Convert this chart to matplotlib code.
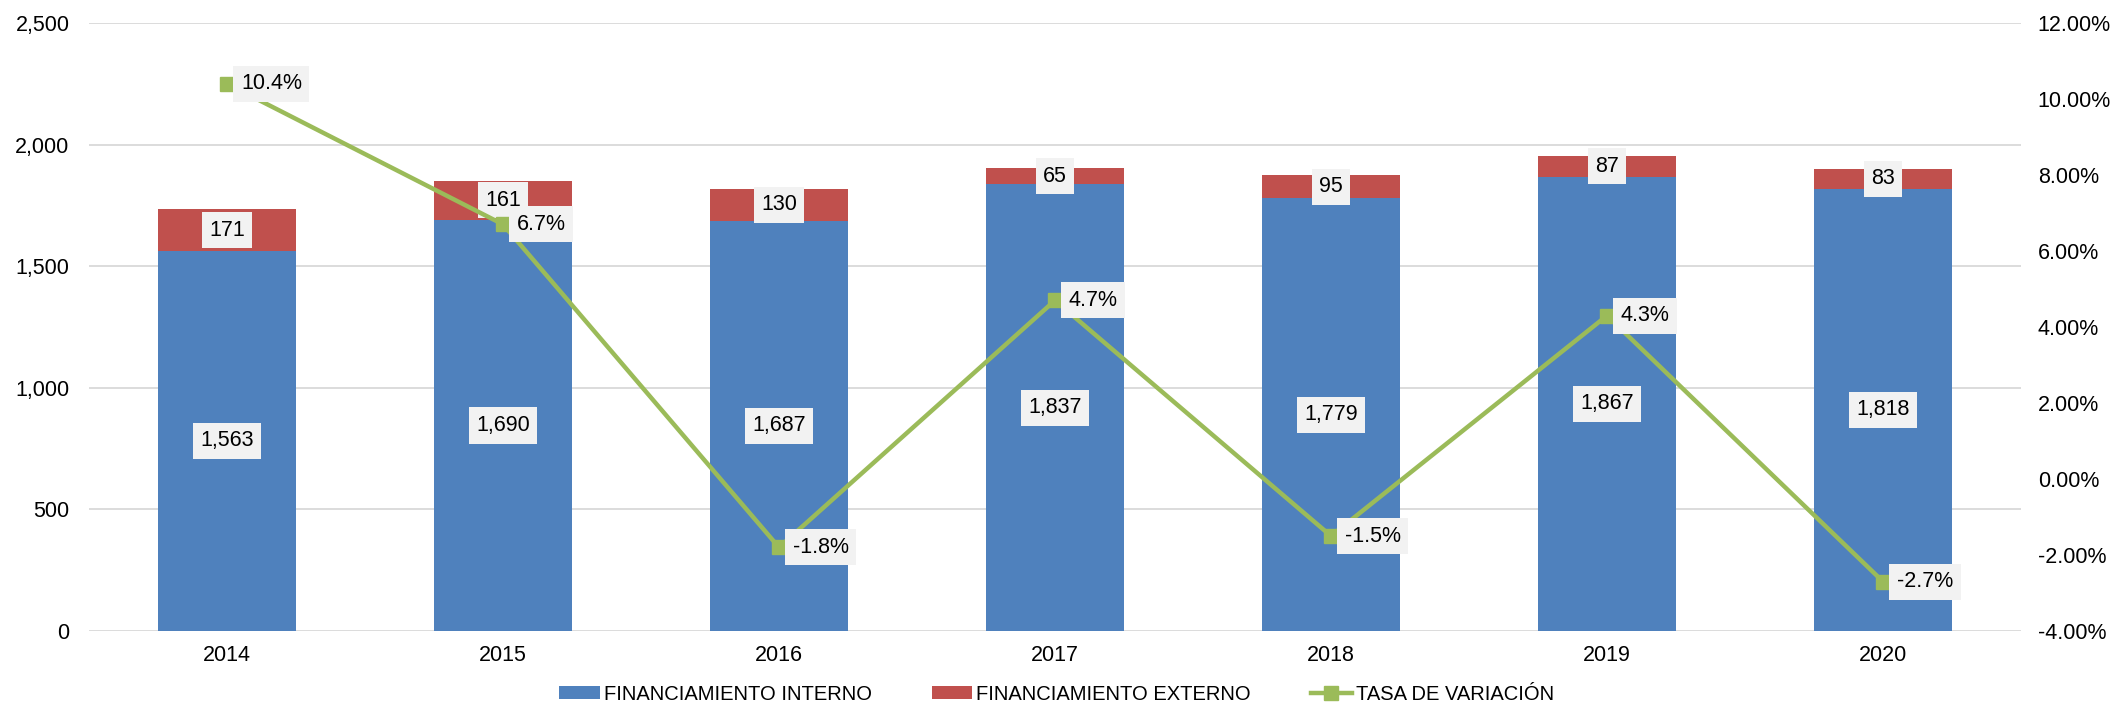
import matplotlib
matplotlib.use("Agg")
import matplotlib.pyplot as plt
from matplotlib.patches import Patch
from matplotlib.lines import Line2D
from matplotlib.ticker import FuncFormatter, MultipleLocator

years = ["2014", "2015", "2016", "2017", "2018", "2019", "2020"]
interno = [1563, 1690, 1687, 1837, 1779, 1867, 1818]
externo = [171, 161, 130, 65, 95, 87, 83]
tasa = [10.4, 6.7, -1.8, 4.7, -1.5, 4.3, -2.7]

BLUE = "#4F81BD"
RED = "#C0504D"
GREEN = "#9BBB59"
plt.rcParams["font.family"] = ["Liberation Sans", "DejaVu Sans"]

fig = plt.figure(figsize=(21.13, 7.08), dpi=100)
ax = fig.add_axes([89 / 2113, 1 - 631 / 708, (2021 - 89) / 2113, (631 - 23) / 708])
x = list(range(len(years)))
w = 0.5
ax.bar(x, interno, w, color=BLUE, zorder=2)
ax.bar(x, externo, w, bottom=interno, color=RED, zorder=2)

FS = 15.5
box = dict(boxstyle="square,pad=0.35", facecolor="#F2F2F2", edgecolor="none")
for i in x:
    ax.text(i, interno[i] / 2, f"{interno[i]:,}", ha="center", va="center",
            fontsize=FS, bbox=box, zorder=5)
    ax.text(i, interno[i] + externo[i] / 2, f"{externo[i]:,}", ha="center", va="center",
            fontsize=FS, bbox=box, zorder=5)

ax.set_xlim(-0.5, len(years) - 0.5)
ax.set_ylim(0, 2500)
ax.yaxis.set_major_locator(MultipleLocator(500))
ax.yaxis.set_major_formatter(FuncFormatter(lambda v, p: f"{v:,.0f}"))
ax.set_xticks(x)
ax.set_xticklabels(years)
ax.grid(axis="y", color="#D9D9D9", linewidth=1.3, zorder=0)
ax.set_axisbelow(True)
for s in ax.spines.values():
    s.set_visible(False)
ax.tick_params(axis="both", length=0, labelsize=FS, colors="#000000")
ax.tick_params(axis="x", pad=10)
ax.tick_params(axis="y", pad=14)

ax2 = ax.twinx()
ax2.plot(x, tasa, color=GREEN, linewidth=3.2, marker="s", markersize=10.5, zorder=3)
for i in x:
    ax2.annotate(f"{tasa[i]:.1f}%", (i, tasa[i]), xytext=(10, 0), textcoords="offset points",
                 ha="left", va="center", fontsize=FS, bbox=box, zorder=6)
ax2.set_ylim(-4, 12)
ax2.yaxis.set_major_locator(MultipleLocator(2))
ax2.yaxis.set_major_formatter(FuncFormatter(lambda v, p: f"{v:.2f}%"))
for s in ax2.spines.values():
    s.set_visible(False)
ax2.tick_params(axis="y", length=0, labelsize=FS, pad=12)

handles = [Patch(facecolor=BLUE), Patch(facecolor=RED),
           Line2D([0], [0], color=GREEN, linewidth=3.2, marker="s", markersize=10)]
labels = ["FINANCIAMIENTO INTERNO", "FINANCIAMIENTO EXTERNO", "TASA DE VARIACIÓN"]
fig.legend(handles, labels, loc="center", bbox_to_anchor=(0.5, 1 - 694 / 708), ncol=3,
           frameon=False, fontsize=14.5, handlelength=2.0, handleheight=0.6,
           handletextpad=0.2, columnspacing=3.0)

fig.savefig("out.png", dpi=100)
